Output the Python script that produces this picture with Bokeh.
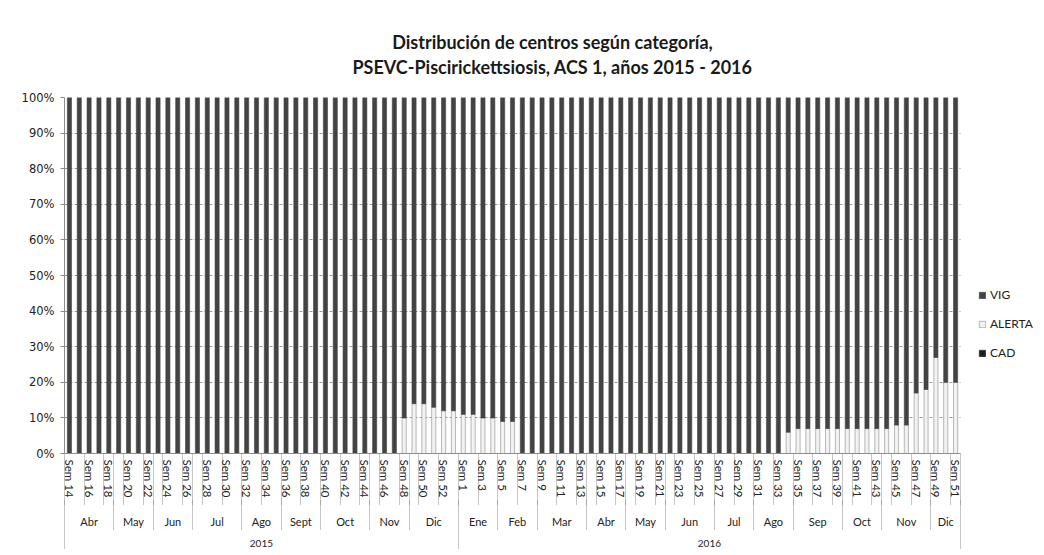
from bokeh.plotting import figure
from bokeh.models import (ColumnDataSource, NumeralTickFormatter, Legend, LegendItem,
                          LinearAxis, Range1d, FixedTicker, Title, BoxAnnotation)
from bokeh.embed import file_html
from bokeh.resources import INLINE

# ---------------- data ----------------
years = ["2015", "2016"]
weeks_2015 = list(range(14, 54))
weeks_2016 = list(range(1, 52))
months_2015 = ["Abr", "May", "Jun", "Jul", "Ago", "Sept", "Oct", "Nov", "Dic"]
month_len_2015 = [5, 4, 4, 5, 4, 4, 5, 4, 5]
months_2016 = ["Ene", "Feb", "Mar", "Abr", "May", "Jun", "Jul", "Ago", "Sep", "Oct", "Nov", "Dic"]
month_len_2016 = [4, 4, 5, 4, 4, 5, 4, 4, 5, 4, 5, 3]

# percentages (Sem 14..53 of 2015)
alerta_2015 = [0, 0, 0, 0, 0, 0, 0, 0, 0, 0,
               0, 0, 0, 0, 0, 0, 0, 0, 0, 0,
               0, 0, 0, 0, 0, 0, 0, 0, 0, 0,
               0, 0, 0, 0, 10, 14, 14, 13, 12, 12]
vig_2015 = [100, 100, 100, 100, 100, 100, 100, 100, 100, 100,
            100, 100, 100, 100, 100, 100, 100, 100, 100, 100,
            100, 100, 100, 100, 100, 100, 100, 100, 100, 100,
            100, 100, 100, 100, 90, 86, 86, 87, 88, 88]
cad_2015 = [0, 0, 0, 0, 0, 0, 0, 0, 0, 0,
            0, 0, 0, 0, 0, 0, 0, 0, 0, 0,
            0, 0, 0, 0, 0, 0, 0, 0, 0, 0,
            0, 0, 0, 0, 0, 0, 0, 0, 0, 0]
# percentages (Sem 1..51 of 2016)
alerta_2016 = [11, 11, 10, 10, 9, 9, 0, 0, 0, 0,
               0, 0, 0, 0, 0, 0, 0, 0, 0, 0,
               0, 0, 0, 0, 0, 0, 0, 0, 0, 0,
               0, 0, 0, 6, 7, 7, 7, 7, 7, 7,
               7, 7, 7, 7, 8, 8, 17, 18, 27, 20, 20]
vig_2016 = [89, 89, 90, 90, 91, 91, 100, 100, 100, 100,
            100, 100, 100, 100, 100, 100, 100, 100, 100, 100,
            100, 100, 100, 100, 100, 100, 100, 100, 100, 100,
            100, 100, 100, 94, 93, 93, 93, 93, 93, 93,
            93, 93, 93, 93, 92, 92, 83, 82, 73, 80, 80]
cad_2016 = [0, 0, 0, 0, 0, 0, 0, 0, 0, 0,
            0, 0, 0, 0, 0, 0, 0, 0, 0, 0,
            0, 0, 0, 0, 0, 0, 0, 0, 0, 0,
            0, 0, 0, 0, 0, 0, 0, 0, 0, 0,
            0, 0, 0, 0, 0, 0, 0, 0, 0, 0, 0]

title_1 = "Distribución de centros según categoría,"
title_2 = "PSEVC-Piscirickettsiosis, ACS 1, años 2015 - 2016"

# ---------------- category positions ----------------
week_labels = [f"Sem {w}" for w in weeks_2015] + [f"Sem {w}" for w in weeks_2016]
n_bars = len(week_labels)
centers = [i + 0.5 for i in range(n_bars)]

vig = vig_2015 + vig_2016
alerta = alerta_2015 + alerta_2016
cad = cad_2015 + cad_2016
src = ColumnDataSource(dict(x=centers, week=week_labels,
                            CAD=[v / 100 for v in cad],
                            ALERTA=[v / 100 for v in alerta],
                            VIG=[v / 100 for v in vig]))

# every other week carries a label (as in the original)
week_ticks = centers[::2]
week_overrides = {centers[i]: week_labels[i] for i in range(0, n_bars, 2)}

month_names = months_2015 + months_2016
month_lens = month_len_2015 + month_len_2016
month_bounds, month_centers = [], []
pos = 0
for n in month_lens:
    month_bounds.append(pos)
    month_centers.append(pos + n / 2)
    pos += n
month_bounds.append(pos)
month_overrides = {c: m for c, m in zip(month_centers, month_names)}

year_lens = [len(weeks_2015), len(weeks_2016)]
year_bounds = [0, year_lens[0], year_lens[0] + year_lens[1]]
year_centers = [year_lens[0] / 2, year_lens[0] + year_lens[1] / 2]
year_overrides = {c: y for c, y in zip(year_centers, years)}

pair_bounds = sorted(set(range(0, n_bars + 1, 2)) | set(month_bounds))

# ---------------- figure ----------------
FONT = "Lato"
TXT = "#222222"
SEP = "#8c8c8c"
BAR_AREA_PX = 896      # width of the bar area
FRAME_PX = 976         # frame also hosts the legend to the right of the bars
x_end = n_bars * FRAME_PX / BAR_AREA_PX

p = figure(frame_width=FRAME_PX, frame_height=356, output_backend="svg", toolbar_location=None,
           x_range=Range1d(0, x_end), y_range=Range1d(0, 1), x_axis_location=None,
           min_border_left=64, min_border_right=0, min_border_top=97, min_border_bottom=92)
p.outline_line_color = None

rs = p.vbar_stack(["CAD", "ALERTA", "VIG"], x="x", width=0.42, source=src,
                  fill_color=["#1e1e1e", "#f2f2f2", "#434343"],
                  line_color=["#1e1e1e", "#8c8c8c", "#434343"], line_width=0.6)

# blank out the legend zone (hides gridlines right of the bars)
p.add_layout(BoxAnnotation(left=n_bars, right=x_end, bottom=0, top=1,
                           fill_color="white", fill_alpha=1, line_color=None))


def base_axis(ticks, minor, overrides, size, standoff, tick_len):
    ax = LinearAxis(ticker=FixedTicker(ticks=ticks, minor_ticks=minor))
    ax.major_label_overrides = overrides
    ax.major_label_text_font = FONT
    ax.major_label_text_font_size = size
    ax.major_label_text_color = TXT
    ax.major_label_standoff = standoff
    ax.major_tick_line_color = None
    ax.major_tick_out = 0
    ax.major_tick_in = 0
    ax.minor_tick_line_color = SEP
    ax.minor_tick_line_dash = "1 1"
    ax.minor_tick_in = -tick_len
    ax.minor_tick_out = 0
    ax.axis_line_color = None
    ax.bounds = (0, n_bars)
    return ax


week_axis = base_axis(week_ticks, pair_bounds, week_overrides, "11.5px", 6, 52)
week_axis.major_label_orientation = "vertical"
week_axis.axis_line_color = SEP
p.add_layout(week_axis, "below")

month_axis = base_axis(month_centers, month_bounds, month_overrides, "11px", 14, 30)
p.add_layout(month_axis, "below")

year_axis = base_axis(year_centers, year_bounds, year_overrides, "10px", 9, 24)
p.add_layout(year_axis, "below")

# y axis
p.yaxis.ticker = FixedTicker(ticks=[i / 10 for i in range(11)])
p.yaxis.formatter = NumeralTickFormatter(format="0%")
p.yaxis.major_label_text_font = "DejaVu Sans"
p.yaxis.major_label_text_font_size = "11.5px"
p.yaxis.major_label_text_color = TXT
p.yaxis.axis_line_color = SEP
p.yaxis.major_tick_line_color = SEP
p.yaxis.major_tick_out = 4
p.yaxis.major_tick_in = 0
p.yaxis.minor_tick_line_color = None
p.yaxis.major_label_standoff = 6

p.xgrid.grid_line_color = None
p.ygrid.grid_line_color = "#9a9a9a"
p.ygrid.grid_line_dash = "3 2"
p.ygrid.grid_line_width = 1

# titles
t2 = Title(text=title_2, align="center", text_font=FONT, text_font_size="18px",
           text_font_style="bold", text_color="#1a1a1a", standoff=2, offset=-20,
           padding=dict(left=0, right=0, top=0, bottom=19))
t1 = Title(text=title_1, align="center", text_font=FONT, text_font_size="18px",
           text_font_style="bold", text_color="#1a1a1a", standoff=0, offset=-20,
           padding=dict(left=0, right=0, top=9, bottom=0))
p.add_layout(t2, "above")
p.add_layout(t1, "above")

legend = Legend(items=[LegendItem(label="VIG", renderers=[rs[2]]),
                       LegendItem(label="ALERTA", renderers=[rs[1]]),
                       LegendItem(label="CAD", renderers=[rs[0]])],
                location=(914, 93), glyph_width=8, glyph_height=8, spacing=14,
                label_text_font=FONT, label_text_font_size="12px", label_text_color=TXT,
                label_standoff=4, padding=2, margin=0, border_line_color=None,
                background_fill_color="white", background_fill_alpha=1)
p.add_layout(legend, "center")

open("out.html", "w").write(file_html(p, INLINE))
